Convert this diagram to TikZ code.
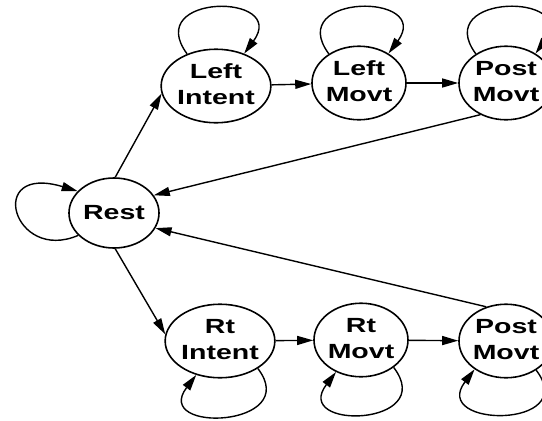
\documentclass[tikz,border=0pt]{standalone}
\usepackage{graphicx}
\usepackage{fontspec}
\setmainfont{Liberation Sans}
\usetikzlibrary{shapes.geometric,arrows.meta}
\newcommand\twolines[2]{\scalebox{1.39}[1]{\begin{tabular}{@{}c@{}}#1\\#2\end{tabular}}}
\newcommand\oneline[1]{\scalebox{1.39}[1]{#1}}
\begin{document}
\begin{tikzpicture}[x=1pt,y=-1pt,
  st/.style={ellipse,draw,line width=1.6pt,inner sep=0pt,minimum width=94pt,minimum height=71pt,
    font=\fontsize{20.5}{26}\selectfont\bfseries},
  tr/.style={line width=1.4pt,-{Triangle[length=16pt,width=9pt]}}]
\useasboundingbox (0,0) rectangle (542,421);
% states
\node[st,minimum width=90pt,minimum height=70pt] (rest) at (114,213) {\oneline{Rest}};
\node[st,minimum width=99pt,minimum height=73pt] (li) at (216,86) {\twolines{Left}{Intent}};
\node[st,minimum width=88pt] (lm) at (359,83) {\twolines{Left}{Movt}};
\node[st,minimum width=92pt] (pt) at (506,83) {\twolines{Post}{Movt}};
\node[st,minimum width=96pt,minimum height=69pt] (ri) at (220,341) {\twolines{Rt}{Intent}};
\node[st,minimum width=92pt,minimum height=68pt] (rm) at (361,340) {\twolines{Rt}{Movt}};
\node[st,minimum width=92pt,minimum height=69pt] (pb) at (506,341) {\twolines{Post}{Movt}};
% transitions
\draw[tr] (rest.88) -- (li.188);
\draw[tr] (li) -- (lm);
\draw[tr] (lm) -- (pt);
\draw[tr] (pt.231) -- (rest.24);
\draw[tr] (pb.120) -- (rest.-20);
\draw[tr] (rest.272) -- (ri.173);
\draw[tr] (ri) -- (rm);
\draw[tr] (rm) -- (pb);
% self loops
\draw[tr] (rest.212) .. controls +(-65,28) and +(-93,-28) .. (rest.149);
\draw[tr] (li.132) .. controls +(-45,-61) and +(45,-61) .. (li.49);
\draw[tr] (lm.136) .. controls +(-45,-61) and +(45,-61) .. (lm.45);
\draw[tr] (pt.136) .. controls +(-45,-61) and +(45,-61) .. (pt.45);
\draw[tr] (ri.-36) .. controls +(45,59) and +(-45,59) .. (ri.235);
\draw[tr] (rm.-40) .. controls +(45,59) and +(-45,59) .. (rm.232);
\draw[tr] (pb.-44) .. controls +(45,59) and +(-45,59) .. (pb.222);
\end{tikzpicture}
\end{document}
